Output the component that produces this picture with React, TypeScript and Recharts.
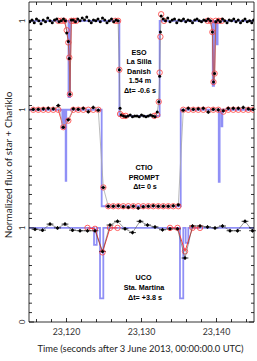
import { ComposedChart, ErrorBar, Line, Scatter, XAxis, YAxis } from "recharts";

// axes
const xTicks = [23116, 23118, 23120, 23122, 23124, 23126, 23128, 23130, 23132, 23134, 23136, 23138, 23140, 23142, 23144];
const xMajor = [23120, 23130, 23140];
const yTicks = [0, 0.1, 0.2, 0.3, 0.4, 0.5, 0.6, 0.7, 0.8, 0.9, 1, 1.1, 1.155, 1.255, 1.355, 1.455, 1.555, 1.655, 1.755, 1.855, 1.955, 2.055, 2.155, 2.255, 2.3, 2.4, 2.5, 2.6, 2.7, 2.8, 2.9, 3, 3.1, 3.2, 3.3];
const yLabelled = [0, 1, 2.255, 3.2];
const yLabels = ["0", "1", "1", "1"];

// ESO La Silla Danish 1.54 m (offset +2.2) — observed [time, flux]
const esoObs = [
  [23115.1, 3.19], [23115.4, 3.21], [23115.7, 3.18], [23116.0, 3.22], [23116.3, 3.2], [23116.6, 3.17], [23116.9, 3.21],
  [23117.2, 3.19], [23117.5, 3.23], [23117.8, 3.2], [23118.1, 3.18], [23118.4, 3.21], [23118.7, 3.22], [23119.0, 3.19],
  [23119.3, 3.2], [23119.6, 3.22], [23119.85, 3.2],
  [23120.03, 3.07], [23120.24, 2.98], [23120.37, 2.8], [23120.45, 2.42], [23120.65, 3.21],
  [23120.9, 3.21], [23121.2, 3.19], [23121.5, 3.22], [23121.8, 3.2], [23122.1, 3.23], [23122.4, 3.21], [23122.7, 3.24],
  [23123.0, 3.2], [23123.3, 3.18], [23123.6, 3.21], [23123.9, 3.2], [23124.2, 3.22], [23124.5, 3.19], [23124.8, 3.23],
  [23125.1, 3.21], [23125.4, 3.18], [23125.7, 3.2], [23126.0, 3.22], [23126.3, 3.19], [23126.6, 3.21], [23126.88, 3.2],
  [23127.04, 2.68], [23127.14, 2.27], [23127.3, 2.2],
  [23127.6, 2.19], [23127.9, 2.18], [23128.2, 2.19], [23128.5, 2.2], [23128.8, 2.18], [23129.1, 2.19], [23129.4, 2.19],
  [23129.7, 2.18], [23130.0, 2.2], [23130.3, 2.19], [23130.6, 2.18], [23130.9, 2.19], [23131.2, 2.2], [23131.5, 2.19],
  [23131.8, 2.18], [23132.1, 2.23],
  [23132.3, 2.34], [23132.42, 2.61], [23132.52, 3.08], [23132.62, 3.25],
  [23132.9, 3.22], [23133.2, 3.2], [23133.5, 3.23], [23133.8, 3.19], [23134.1, 3.21], [23134.4, 3.22], [23134.7, 3.18],
  [23135.0, 3.21], [23135.3, 3.2], [23135.6, 3.22], [23135.9, 3.19], [23136.2, 3.21], [23136.5, 3.2], [23136.8, 3.18],
  [23137.1, 3.21], [23137.4, 3.22], [23137.7, 3.2], [23138.0, 3.19], [23138.3, 3.21], [23138.6, 3.2], [23138.9, 3.22],
  [23139.2, 3.2],
  [23139.45, 3.08], [23139.6, 2.55], [23139.75, 2.64], [23139.9, 3.19],
  [23140.2, 3.21], [23140.5, 3.19], [23140.8, 3.22], [23141.1, 3.2], [23141.4, 3.18], [23141.7, 3.21], [23142.0, 3.2],
  [23142.3, 3.22], [23142.6, 3.19], [23142.9, 3.21], [23143.2, 3.18], [23143.5, 3.2], [23143.8, 3.22], [23144.1, 3.19],
  [23144.4, 3.2], [23144.7, 3.18], [23144.95, 3.21],
];
const esoRing1Model = [
  [23118.9, 3.2], [23119.3, 3.2], [23119.7, 3.2], [23120.03, 3.1], [23120.24, 2.97], [23120.37, 2.81], [23120.45, 2.42],
  [23120.65, 3.2], [23120.95, 3.2], [23121.3, 3.2],
];
const esoIngressModel = [[23126.5, 3.2], [23126.88, 3.2], [23127.04, 2.68], [23127.14, 2.21], [23127.5, 2.19], [23127.9, 2.19]];
const esoEgressModel = [[23131.7, 2.19], [23132.1, 2.2], [23132.3, 2.34], [23132.42, 2.65], [23132.52, 3.03], [23132.62, 3.27], [23133.0, 3.2]];
const esoRing2Model = [
  [23138.8, 3.2], [23139.2, 3.2], [23139.45, 3.08], [23139.6, 2.55], [23139.75, 2.64], [23139.9, 3.2], [23140.3, 3.2], [23140.7, 3.2],
];
const esoProfile = [
  [23115, 3.2], [23120.27, 2.39], [23120.47, 3.2], [23127.05, 2.19], [23132.42, 3.2], [23139.5, 2.51], [23139.67, 3.2],
  [23140.05, 2.95], [23140.15, 3.2], [23145, 3.2],
];

// CTIO PROMPT (offset +1.255)
const ctioObs = [
  [23115.57, 2.26], [23116.24, 2.26], [23116.91, 2.265], [23117.57, 2.27], [23118.24, 2.265], [23118.91, 2.3],
  [23119.57, 2.07], [23120.24, 2.15], [23120.91, 2.265], [23121.57, 2.26], [23122.24, 2.27], [23122.91, 2.235],
  [23123.57, 2.28], [23124.24, 2.25], [23124.91, 1.43], [23125.57, 1.23], [23126.24, 1.23], [23126.91, 1.235],
  [23127.57, 1.225], [23128.24, 1.22], [23128.91, 1.23], [23129.57, 1.21], [23130.24, 1.225], [23130.91, 1.23],
  [23131.57, 1.235], [23132.24, 1.23], [23132.91, 1.23], [23133.57, 1.23], [23134.24, 1.235], [23134.91, 1.245],
  [23135.57, 2.25], [23136.24, 2.27], [23136.91, 2.26], [23137.57, 2.265], [23138.24, 2.27], [23138.91, 2.23],
  [23139.57, 2.26], [23140.24, 2.255], [23140.91, 2.245], [23141.57, 2.27], [23142.24, 2.27], [23142.91, 2.27],
  [23143.57, 2.28], [23144.24, 2.265], [23144.91, 2.26],
];
const ctioModel = [
  [23115.57, 2.255], [23116.24, 2.255], [23116.91, 2.255], [23117.57, 2.255], [23118.24, 2.255], [23118.91, 2.255],
  [23119.57, 2.07], [23120.24, 2.14], [23120.91, 2.255], [23121.57, 2.255], [23122.24, 2.255], [23122.91, 2.255],
  [23123.57, 2.255], [23124.24, 2.255], [23124.91, 1.43], [23125.57, 1.23], [23126.24, 1.23], [23126.91, 1.23],
  [23127.57, 1.23], [23128.24, 1.23], [23128.91, 1.23], [23129.57, 1.23], [23130.24, 1.23], [23130.91, 1.23],
  [23131.57, 1.23], [23132.24, 1.23], [23132.91, 1.23], [23133.57, 1.23], [23134.24, 1.23], [23134.91, 1.23],
  [23135.57, 2.255], [23136.24, 2.255], [23136.91, 2.255], [23137.57, 2.255], [23138.24, 2.255], [23138.91, 2.255],
  [23139.57, 2.255], [23140.24, 2.255], [23140.91, 2.235], [23141.57, 2.255], [23142.24, 2.255], [23142.91, 2.255],
  [23143.57, 2.255], [23144.24, 2.255], [23144.91, 2.255],
];
const ctioRing1Model = [[23118.91, 2.255], [23119.57, 2.07], [23120.24, 2.14], [23120.91, 2.255]];
const ctioRing2Model = [[23140.24, 2.255], [23140.91, 2.235], [23141.57, 2.255]];
const ctioProfile = [
  [23115, 2.255], [23119.44, 2.06], [23119.67, 2.255], [23119.89, 1.5], [23119.97, 2.255], [23124.69, 1.23],
  [23135.23, 2.255], [23140.3, 1.49], [23140.42, 2.255], [23140.68, 2.08], [23140.78, 2.255], [23145, 2.255],
];
const ctioExposure = 0.3;

// UCO Sta. Martina (no offset)
const ucoTimes = [
  23115.8, 23116.8, 23117.8, 23118.8, 23119.8, 23120.8, 23121.8, 23122.8, 23123.8, 23124.8, 23125.8, 23126.8, 23127.8,
  23128.8, 23129.8, 23130.8, 23131.8, 23132.8, 23133.8, 23134.8, 23135.8, 23136.8, 23137.8, 23138.8, 23139.8, 23140.8,
  23141.8, 23142.8, 23143.8, 23144.8,
];
const ucoFlux = [
  0.986, 0.976, 1.04, 1.0, 1.04, 0.976, 0.97, 0.97, 0.97, 0.75, 1.03, 1.07, 0.99, 0.95, 1.07, 1.03, 1.01, 0.98, 0.99,
  0.99, 0.68, 1.02, 1.02, 1.01, 1.0, 1.02, 0.97, 0.97, 1.07, 0.97,
];
const ucoRing1Model = [[23122.8, 1.0], [23123.8, 0.99], [23124.8, 0.74], [23125.8, 1.0], [23126.8, 1.0]];
const ucoRing2Model = [[23133.8, 1.0], [23134.8, 1.0], [23135.8, 0.75], [23136.8, 1.0], [23137.8, 1.0]];
const ucoProfile = [
  [23115, 1.0], [23123.67, 0.82], [23124.03, 1.0], [23124.47, 0.25], [23124.91, 1.0], [23135.13, 0.25],
  [23135.57, 1.0], [23135.89, 0.84], [23136.24, 1.0], [23145, 1.0],
];
const ucoExposure = 0.45;
const fluxErr = 0.02;

const pts = (a: number[][], ex = 0, ey = 0) => a.map(([t, f]) => ({ t, f, ex, ey }));

const RED = "#ff3b3b";
const BLUE = "#4646f0";

const blackDot = (p: any) => <circle cx={p.cx} cy={p.cy} r={1.5} fill="#000" />;
const redRing = (p: any) => <circle cx={p.cx} cy={p.cy} r={2.7} fill="none" stroke={RED} strokeWidth={0.8} />;
const noDot = () => <g />;

const XTick = (props: any) => {
  const { x, y, payload, top } = props;
  const major = xMajor.includes(payload.value);
  const d = top ? 1 : -1;
  return (
    <g>
      <line x1={x} y1={y} x2={x} y2={y + d * (major ? 4 : 3)} stroke="#000" strokeWidth={0.8} />
      {!top && major && (
        <text x={x} y={y + 12.5} textAnchor="middle" fontSize={8.8} fontFamily="Lato" fill="#333">
          {payload.value.toLocaleString("en-US")}
        </text>
      )}
    </g>
  );
};

const YTick = (props: any) => {
  const { x, y, payload, right } = props;
  const i = yLabelled.findIndex((v) => Math.abs(v - payload.value) < 1e-6);
  const d = right ? -1 : 1;
  return (
    <g>
      <line x1={x} y1={y} x2={x + d * (i >= 0 ? 5 : 3)} y2={y} stroke="#000" strokeWidth={0.8} />
      {!right && i >= 0 && (
        <text transform={`translate(${x - 4},${y}) rotate(-90)`} textAnchor="middle" fontSize={8} fontFamily="Lato" fill="#333">
          {yLabels[i]}
        </text>
      )}
    </g>
  );
};

const txt = (left: number, top: number, s: string, extra: any = {}) => (
  <div
    style={{
      position: "absolute", left, top, transform: "translate(-50%, -50%)", whiteSpace: "nowrap",
      fontFamily: "Liberation Sans, Arial", fontWeight: 700, fontSize: 7.2, lineHeight: 1, color: "#000", ...extra,
    }}
  >
    {s}
  </div>
);

export default function App() {
  return (
    <div style={{ position: "absolute", left: 0, top: 0, width: 257, height: 361, background: "#fff" }}>
      <ComposedChart width={257} height={361} margin={{ top: 1, right: 2, bottom: 0, left: 0 }}>
        <XAxis xAxisId={0} dataKey="t" type="number" domain={[23115, 23145]} allowDataOverflow ticks={xTicks} interval={0}
          height={39} tickSize={0} tickMargin={0} tickLine={false} axisLine={{ stroke: "#000", strokeWidth: 0.8 }} tick={<XTick />} />
        <XAxis xAxisId="top" orientation="top" dataKey="t" type="number" domain={[23115, 23145]} allowDataOverflow ticks={xTicks}
          interval={0} height={1} tickSize={0} tickMargin={0} tickLine={false} axisLine={{ stroke: "#000", strokeWidth: 0.8 }} tick={<XTick top />} />
        <YAxis yAxisId={0} dataKey="f" type="number" domain={[0, 3.4]} allowDataOverflow ticks={yTicks} interval={0} width={29}
          tickSize={0} tickMargin={0} tickLine={false} axisLine={{ stroke: "#000", strokeWidth: 0.8 }} tick={<YTick />} />
        <YAxis yAxisId="r" orientation="right" dataKey="f" type="number" domain={[0, 3.4]} allowDataOverflow ticks={yTicks}
          interval={0} width={1} tickSize={0} tickMargin={0} tickLine={false} axisLine={{ stroke: "#000", strokeWidth: 0.8 }} tick={<YTick right />} />

        {/* model light curves near the ring events */}
        {[esoRing1Model, esoRing2Model, ctioRing1Model, ctioRing2Model, ucoRing1Model, ucoRing2Model].map((d, k) => (
          <Scatter key={"rl" + k} data={pts(d)} shape={noDot} line={{ stroke: RED, strokeWidth: 1 }} isAnimationActive={false} />
        ))}

        {/* geometric square-well profiles */}
        {[esoProfile, ctioProfile, ucoProfile].map((d, k) => (
          <Line key={"bl" + k} data={pts(d)} dataKey="f" type="stepAfter" stroke={BLUE} strokeOpacity={0.6} strokeWidth={1.8}
            dot={false} activeDot={false} isAnimationActive={false} />
        ))}

        {/* synthetic points */}
        <Scatter data={pts([...esoRing1Model, ...esoIngressModel, ...esoEgressModel, ...esoRing2Model])} shape={redRing} isAnimationActive={false} />
        <Scatter data={pts(ctioModel)} shape={redRing} isAnimationActive={false} />
        <Scatter data={pts([...ucoRing1Model, ...ucoRing2Model])} shape={redRing} isAnimationActive={false} />

        {/* observations */}
        <Scatter data={pts(esoObs)} shape={blackDot} line={{ stroke: "#777", strokeWidth: 0.6 }} isAnimationActive={false} />
        <Scatter data={pts(ctioObs, ctioExposure, fluxErr)} shape={blackDot} line={{ stroke: "#aaa", strokeWidth: 0.8 }} isAnimationActive={false}>
          <ErrorBar dataKey="ex" direction="x" width={0} stroke="#000" strokeWidth={0.8} />
          <ErrorBar dataKey="ey" direction="y" width={0} stroke="#000" strokeWidth={0.8} />
        </Scatter>
        <Scatter data={pts(ucoTimes.map((t, i) => [t, ucoFlux[i]]), ucoExposure, fluxErr)} shape={blackDot}
          line={{ stroke: "#555", strokeWidth: 0.6 }} isAnimationActive={false}>
          <ErrorBar dataKey="ex" direction="x" width={0} stroke="#000" strokeWidth={0.8} />
          <ErrorBar dataKey="ey" direction="y" width={0} stroke="#000" strokeWidth={0.8} />
        </Scatter>
      </ComposedChart>

      {txt(139, 53, "ESO")}
      {txt(139, 62.4, "La Silla")}
      {txt(139, 71.8, "Danish")}
      {txt(140, 81.2, "1.54 m")}
      {txt(140, 90.6, "Δt= -0.6 s")}

      {txt(144, 168, "CTIO")}
      {txt(144, 177.5, "PROMPT")}
      {txt(145, 187, "Δt= 0 s")}

      {txt(143.5, 278, "UCO")}
      {txt(144, 288, "Sta. Martina")}
      {txt(145, 298, "Δt= +3.8 s")}

      {txt(140.5, 349, "Time (seconds after 3 June 2013, 00:00:00.0 UTC)", { fontFamily: "Lato", fontWeight: 400, fontSize: 9.4, color: "#222" })}
      {txt(7.5, 165, "Normalized flux of star + Chariklo", {
        fontFamily: "Lato", fontWeight: 400, fontSize: 10, color: "#222", transform: "translate(-50%, -50%) rotate(-90deg)",
      })}
    </div>
  );
}
